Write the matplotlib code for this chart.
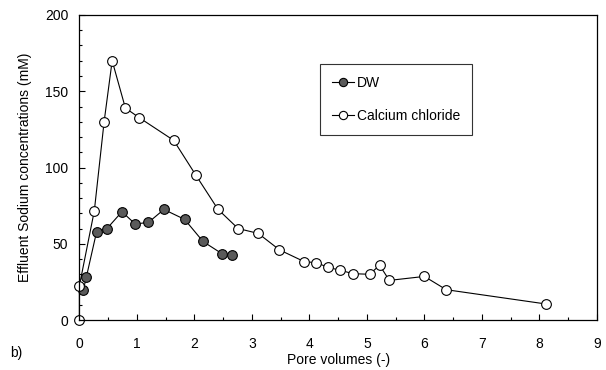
import matplotlib
matplotlib.use('Agg')
import matplotlib.pyplot as plt
from matplotlib.ticker import MultipleLocator

plt.rcParams['font.family'] = ['Liberation Sans', 'DejaVu Sans']

# DW series
dw_x = [0.07, 0.12, 0.30, 0.48, 0.74, 0.97, 1.20, 1.47, 1.83, 2.15, 2.48, 2.66]
dw_y = [20, 28, 58, 60, 71, 63, 64, 72.5, 66, 51.5, 43.5, 42.5]

# Calcium chloride series
ca_x = [0.0, 0.0, 0.26, 0.43, 0.57, 0.80, 1.04, 1.64, 2.02, 2.41, 2.76, 3.11,
        3.48, 3.91, 4.12, 4.33, 4.54, 4.76, 5.05, 5.22, 5.39, 6.00, 6.38, 8.12]
ca_y = [0, 22.5, 71.7, 130, 170, 139, 132.7, 117.8, 95.3, 72.6, 60, 56.8,
        46, 38.3, 37.6, 34.5, 32.6, 30.4, 30, 36, 26, 28.6, 19.9, 10.5]

fig = plt.figure(figsize=(6.06, 3.70), dpi=100)
ax = fig.add_axes([0.131, 0.135, 0.854, 0.8245])

ax.plot(dw_x, dw_y, '-o', color='black', lw=0.8, ms=7,
        mfc='#5a5a5a', mec='black', mew=0.8, label='DW', clip_on=False)
ax.plot(ca_x, ca_y, '-o', color='black', lw=0.8, ms=7,
        mfc='white', mec='black', mew=0.8, label='Calcium chloride', clip_on=False)

ax.set_xlim(0, 9)
ax.set_ylim(0, 200)
ax.xaxis.set_major_locator(MultipleLocator(1))
ax.xaxis.set_minor_locator(MultipleLocator(0.5))
ax.yaxis.set_major_locator(MultipleLocator(50))
ax.yaxis.set_minor_locator(MultipleLocator(10))
ax.tick_params(which='both', direction='in', labelsize=10, width=0.8)
ax.tick_params(which='major', length=4)
ax.tick_params(axis='x', which='major', pad=12)
ax.tick_params(axis='y', which='major', pad=8)
ax.tick_params(which='minor', length=2.5)
for s in ax.spines.values():
    s.set_linewidth(0.9)

ax.set_xlabel('Pore volumes (-)', fontsize=10, labelpad=2)
ax.set_ylabel('Effluent Sodium concentrations (mM)', fontsize=10, labelpad=9)

leg = ax.legend(loc='upper left', bbox_to_anchor=(0.528, 0.827),
                bbox_transform=fig.transFigure, borderaxespad=0, fontsize=10,
                fancybox=False, edgecolor='#333333', framealpha=1,
                handlelength=1.6, labelspacing=1.4, borderpad=0.85,
                handletextpad=0.2, markerscale=0.85)
leg.get_frame().set_linewidth(0.8)

fig.text(0.017, 0.035, 'b)', fontsize=10)

fig.savefig('out.png', dpi=100)
